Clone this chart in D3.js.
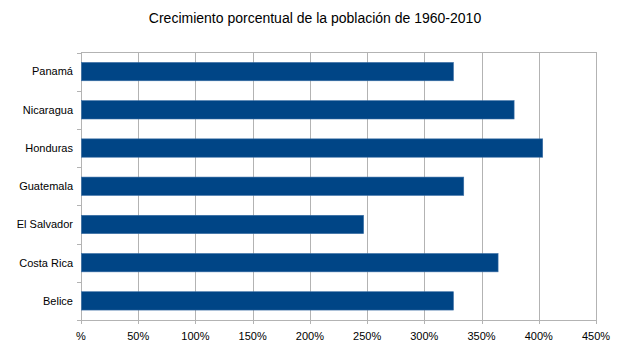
<!DOCTYPE html>
<html><head><meta charset="utf-8">
<script src="https://cdn.jsdelivr.net/npm/d3@7"></script>
<style>body{margin:0;background:#fff;}svg{display:block;font-family:"Liberation Sans",Arial,sans-serif;}</style>
</head><body>
<svg id="chart" width="629" height="359"></svg>
<script>
const title = "Crecimiento porcentual de la población de 1960-2010";
const categories = ["Panamá","Nicaragua","Honduras","Guatemala","El Salvador","Costa Rica","Belice"];
const values = [325, 378, 403, 334, 246.5, 364, 325];
const xTicks = [0,50,100,150,200,250,300,350,400,450];
const xTickLabels = ["%","50%","100%","150%","200%","250%","300%","350%","400%","450%"];

const svg = d3.select("#chart");
const m = {left:81, right:33, top:52.5, bottom:39};
const W = 629, H = 359;
const x = d3.scaleLinear().domain([0,450]).range([m.left, W-m.right]);
const y = d3.scaleBand().domain(categories).range([m.top, H-m.bottom]).paddingInner(0.52).paddingOuter(0.26);
const grid = "#b3b3b3";

svg.append("text").attr("x",315).attr("y",23).attr("text-anchor","middle")
  .attr("font-size",14).attr("fill","#000").text(title);

// vertical gridlines + ticks
svg.append("g").selectAll("line").data(xTicks).join("line")
  .attr("x1",d=>Math.round(x(d))+0.5).attr("x2",d=>Math.round(x(d))+0.5)
  .attr("y1",m.top).attr("y2",H-m.bottom+4)
  .attr("stroke",grid).attr("stroke-width",1);
// top line
svg.append("line").attr("x1",m.left).attr("x2",W-m.right+1).attr("y1",m.top).attr("y2",m.top).attr("stroke",grid);
// bottom axis
svg.append("line").attr("x1",m.left).attr("x2",W-m.right+1).attr("y1",H-m.bottom+0.5).attr("y2",H-m.bottom+0.5).attr("stroke",grid);

// category ticks at band boundaries
const bounds = d3.range(categories.length+1).map(i => m.top + (H-m.top-m.bottom)*i/categories.length);
svg.append("g").selectAll("line").data(bounds).join("line")
  .attr("x1",m.left-4).attr("x2",m.left).attr("y1",d=>Math.round(d)+0.5).attr("y2",d=>Math.round(d)+0.5)
  .attr("stroke",grid);

// bars
svg.append("g").selectAll("rect").data(categories).join("rect")
  .attr("x",x(0)+0.5).attr("y",d=>y(d))
  .attr("width",(d,i)=>x(values[i])-x(0)).attr("height",y.bandwidth())
  .attr("fill","#004586").attr("stroke","#3a6ea5").attr("stroke-width",0.6);

// category labels
svg.append("g").selectAll("text").data(categories).join("text")
  .attr("x",m.left-8).attr("y",d=>y(d)+y.bandwidth()/2).attr("dy","0.35em")
  .attr("text-anchor","end").attr("font-size",11).attr("fill","#000").text(d=>d);

// x tick labels
svg.append("g").selectAll("text").data(xTicks).join("text")
  .attr("x",d=>x(d)).attr("y",H-m.bottom+19.5)
  .attr("text-anchor","middle").attr("font-size",11).attr("fill","#000").text((d,i)=>xTickLabels[i]);
</script>
</body></html>
